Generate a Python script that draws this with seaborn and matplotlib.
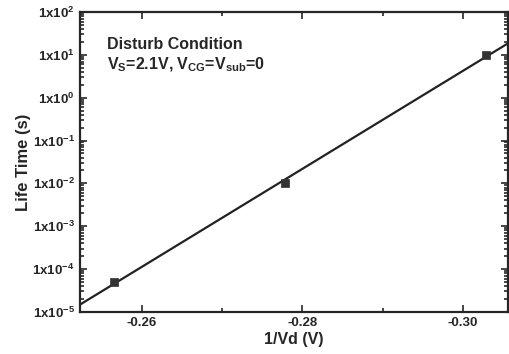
import numpy as np
import pandas as pd
import matplotlib
matplotlib.use("Agg")
import matplotlib.pyplot as plt
import matplotlib.ticker as mticker
import seaborn as sns

# measured points
inv_vd = [-0.2565, -0.2778, -0.3029]
life_time = [5e-5, 1e-2, 1e1]
y_decades = [-5, -4, -3, -2, -1, 0, 1, 2]
x_ticks = [-0.26, -0.28, -0.30]
x_minor = [-0.27, -0.29]

sns.set_style("ticks")
plt.rcParams["font.family"] = ["Liberation Sans", "DejaVu Sans"]
plt.rcParams["font.weight"] = "bold"
plt.rcParams["mathtext.fontset"] = "custom"
plt.rcParams["mathtext.rm"] = "Liberation Sans:bold"
plt.rcParams["mathtext.it"] = "Liberation Sans:bold"
plt.rcParams["mathtext.bf"] = "Liberation Sans:bold"
plt.rcParams["mathtext.default"] = "rm"

df = pd.DataFrame({"x": inv_vd, "y": life_time})

# straight-line fit in log space
xlim = (-0.2523, -0.3056)
coef = np.polyfit(df["x"], np.log10(df["y"]), 1)
fit = pd.DataFrame({"x": np.array(xlim)})
fit["y"] = 10 ** np.polyval(coef, fit["x"])

fig = plt.figure(figsize=(5.1, 3.54), dpi=100)
ax = fig.add_axes([0.157, 0.119, 0.839, 0.847])

sns.lineplot(data=fit, x="x", y="y", color="#222222", lw=1.6, ax=ax)
sns.scatterplot(data=df, x="x", y="y", marker="s", s=40, color="#333333",
                edgecolor="#333333", zorder=3, ax=ax)

ax.set_yscale("log")
ax.set_ylim(1e-5, 1e2)
ax.set_xlim(*xlim)

major_y = [10.0 ** d for d in y_decades]
minor_y = [m * 10.0 ** d for d in y_decades[:-1] for m in range(2, 10)]
ax.yaxis.set_major_locator(mticker.FixedLocator(major_y))
ax.yaxis.set_minor_locator(mticker.FixedLocator(minor_y))
ax.yaxis.set_major_formatter(mticker.FuncFormatter(lambda v, p: r"1x10$^{%d}$" % round(np.log10(v))))
ax.yaxis.set_minor_formatter(mticker.NullFormatter())
ax.xaxis.set_major_locator(mticker.FixedLocator(x_ticks))
ax.xaxis.set_minor_locator(mticker.FixedLocator(x_minor))
ax.xaxis.set_major_formatter(mticker.FormatStrFormatter("%.2f"))
ax.xaxis.set_minor_formatter(mticker.NullFormatter())

ax.tick_params(which="both", direction="in", top=True, right=True, width=1.2)
ax.tick_params(which="major", length=5)
ax.tick_params(axis="y", which="major", labelsize=9.5, pad=4)
ax.tick_params(axis="x", which="major", labelsize=9.5, pad=4)
ax.tick_params(which="minor", length=3)
for s in ax.spines.values():
    s.set_linewidth(1.6)

ax.set_xlabel("1/Vd (V)", fontsize=11.5, fontweight="bold", labelpad=2)
ax.set_ylabel("Life Time (s)", fontsize=12, fontweight="bold", labelpad=1)

ax.text(0.063, 0.893, "Disturb Condition", transform=ax.transAxes,
        fontsize=11.5, fontweight="bold", va="center")
ax.text(0.063, 0.823, r"V$_S$=2.1V, V$_{CG}$=V$_{sub}$=0", transform=ax.transAxes,
        fontsize=11.5, fontweight="bold", va="center")

fig.savefig("out.png", dpi=100)
